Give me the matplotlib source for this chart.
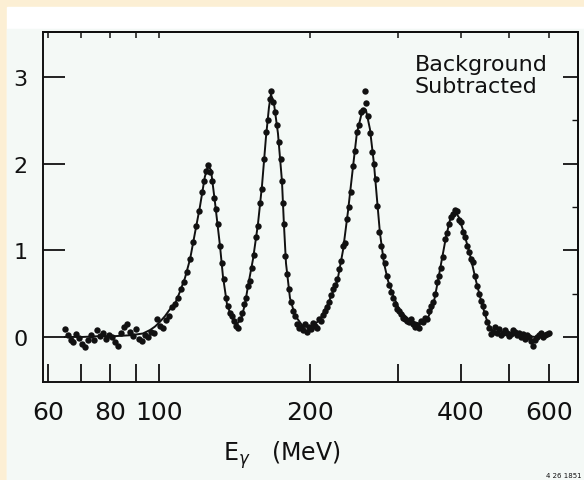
import matplotlib
matplotlib.use("Agg")
import matplotlib.pyplot as plt
from matplotlib.patches import Rectangle
from matplotlib.ticker import NullLocator

# ---------------- data ----------------
# fitted curve: photon energy (MeV) and counts (arb. units)
curve_E = [64.9, 70.5, 76.6, 82.1, 87.9, 92.9, 96.0, 98.2, 100.3, 102.8, 105.2,
           107.6, 110.1, 112.7, 115.4, 118.0, 120.7, 123.5, 125.3, 127.0, 129.4,
           132.4, 134.2, 136.7, 139.8, 143.1, 145.8, 148.5, 150.5, 154.1, 157.6,
           160.6, 163.5, 165.8, 167.3, 169.6, 172.8, 176.0, 177.6, 179.3, 182.6,
           186.8, 193.9, 202.1, 209.6, 217.4, 227.1, 233.0, 238.4, 243.8, 248.3,
           254.3, 258.9, 263.7, 268.6, 272.3, 276.1, 281.3, 286.5, 293.2, 302.7,
           317.0, 331.9, 342.7, 352.3, 360.5, 367.1, 373.9, 380.9, 389.7, 396.9,
           406.2, 417.6, 429.2, 441.2, 453.6, 466.3, 490.5, 525.5, 563.1, 603.2]
curve_y = [0.00, 0.00, 0.01, 0.01, 0.02, 0.04, 0.08, 0.12, 0.17, 0.24, 0.32,
           0.38, 0.52, 0.68, 0.90, 1.20, 1.50, 1.85, 1.97, 1.93, 1.55,
           1.05, 0.70, 0.38, 0.22, 0.15, 0.20, 0.38, 0.58, 0.90, 1.30,
           1.75, 2.30, 2.65, 2.80, 2.70, 2.35, 1.80, 1.30, 0.85, 0.45,
           0.25, 0.12, 0.12, 0.20, 0.38, 0.65, 1.00, 1.45, 1.95, 2.35,
           2.60, 2.62, 2.40, 2.00, 1.60, 1.20, 0.85, 0.65, 0.48, 0.30,
           0.19, 0.15, 0.20, 0.35, 0.65, 0.90, 1.15, 1.35, 1.45, 1.38,
           1.20, 0.95, 0.65, 0.38, 0.15, 0.05, 0.03, 0.02, 0.00, 0.02]

# measured points
data_E = [64.9, 65.8, 66.8, 67.4, 68.3, 69.3, 70.2, 71.2, 72.2, 73.2, 74.2, 75.2,
          76.3, 77.3, 78.4, 79.5, 80.6, 81.7, 82.8, 84.0, 85.1, 86.3, 87.5, 88.7,
          90.0, 91.2, 92.5, 93.8, 95.1, 96.4, 97.7, 99.1, 100.5, 101.8, 103.3,
          104.7, 106.1, 107.6, 109.1, 110.7, 112.2, 113.8, 115.3, 116.9, 118.6,
          120.2, 121.8, 123.0, 124.1, 125.3, 126.4, 127.6, 128.8, 130.0, 131.2,
          132.4, 133.6, 134.8, 136.1, 137.3, 138.6, 139.9, 141.1, 142.5, 143.8,
          145.1, 146.5, 147.8, 149.2, 150.5, 151.9, 153.3, 154.8, 156.2, 157.6,
          159.1, 160.6, 162.0, 163.5, 165.0, 166.5, 167.3, 168.9, 170.4, 172.0,
          173.6, 175.2, 176.0, 176.8, 177.6, 178.5, 180.1, 181.8, 183.5, 185.1,
          186.8, 188.5, 190.3, 192.0, 193.8, 195.6, 197.4, 199.3, 201.1, 203.0,
          204.8, 206.7, 208.6, 210.6, 212.5, 214.4, 216.4, 218.4, 220.4, 222.5,
          224.5, 226.6, 228.7, 230.8, 232.9, 235.1, 237.3, 239.5, 241.7, 243.9,
          246.1, 248.4, 250.7, 253.0, 255.4, 257.7, 258.9, 261.3, 263.7, 266.1,
          268.6, 271.0, 272.3, 274.8, 277.4, 280.0, 282.6, 285.2, 287.8, 290.5,
          293.2, 295.9, 298.7, 301.4, 304.2, 307.0, 309.7, 312.6, 315.5, 318.4,
          321.3, 324.3, 327.3, 330.4, 333.4, 336.5, 339.5, 342.7, 345.9, 349.1,
          352.3, 355.5, 358.8, 362.1, 365.5, 368.9, 372.3, 375.7, 379.2, 382.7,
          386.2, 389.7, 393.4, 397.0, 400.7, 404.4, 408.1, 411.9, 415.7, 419.5,
          423.4, 427.2, 431.2, 435.2, 439.2, 443.3, 447.4, 451.5, 455.7, 459.9,
          464.2, 468.4, 472.8, 477.1, 481.6, 486.0, 490.5, 495.0, 499.6, 504.2,
          508.9, 513.6, 518.4, 523.1, 528.0, 532.8, 537.7, 542.7, 547.8, 552.8,
          557.9, 563.1, 568.3, 573.6, 578.9, 584.2, 589.6, 595.1, 600.6]
data_y = [0.09, 0.02, -0.03, -0.06, 0.03, -0.01, -0.08, -0.12, -0.03, 0.02, -0.04, 0.08,
          0.01, 0.04, -0.02, 0.02, 0.00, -0.06, -0.10, 0.05, 0.11, 0.15, 0.06, 0.01,
          0.09, -0.02, -0.05, 0.02, 0.00, 0.06, 0.04, 0.21, 0.13, 0.10, 0.20,
          0.24, 0.35, 0.38, 0.45, 0.55, 0.63, 0.75, 0.90, 1.10, 1.28,
          1.45, 1.67, 1.80, 1.92, 1.98, 1.90, 1.80, 1.60, 1.48, 1.30,
          1.05, 0.85, 0.67, 0.45, 0.36, 0.28, 0.24, 0.18, 0.13, 0.10,
          0.21, 0.28, 0.38, 0.45, 0.59, 0.65, 0.80, 0.95, 1.15, 1.28,
          1.55, 1.71, 2.05, 2.36, 2.51, 2.75, 2.84, 2.71, 2.60, 2.45,
          2.25, 2.05, 1.80, 1.55, 1.30, 0.93, 0.73, 0.55, 0.40, 0.30,
          0.24, 0.15, 0.10, 0.12, 0.08, 0.15, 0.06, 0.12, 0.09, 0.16,
          0.13, 0.10, 0.21, 0.18, 0.25, 0.30, 0.35, 0.40, 0.48, 0.55,
          0.60, 0.67, 0.78, 0.88, 1.05, 1.09, 1.36, 1.50, 1.67, 1.97,
          2.15, 2.36, 2.45, 2.60, 2.62, 2.84, 2.70, 2.55, 2.35, 2.13,
          2.00, 1.82, 1.51, 1.21, 1.05, 0.93, 0.85, 0.70, 0.60, 0.52,
          0.45, 0.38, 0.32, 0.30, 0.26, 0.22, 0.21, 0.18, 0.17, 0.21,
          0.15, 0.12, 0.14, 0.10, 0.18, 0.17, 0.22, 0.21, 0.30, 0.36,
          0.40, 0.50, 0.63, 0.70, 0.80, 0.92, 1.13, 1.20, 1.30, 1.38,
          1.42, 1.47, 1.45, 1.35, 1.33, 1.21, 1.15, 1.05, 0.98, 0.90,
          0.86, 0.70, 0.59, 0.50, 0.42, 0.36, 0.28, 0.17, 0.10, 0.03,
          0.06, 0.12, 0.05, 0.09, 0.02, 0.04, 0.08, 0.05, 0.01, 0.03,
          0.08, 0.06, 0.02, 0.05, 0.00, 0.03, -0.02, 0.02, 0.00, -0.05,
          -0.10, -0.03, 0.00, 0.02, 0.04, 0.00, 0.02, 0.03, 0.05]

x_ticks = [60, 70, 80, 90, 100, 200, 300, 400, 500, 600]
x_labels = ["60", "", "80", "", "100", "200", "", "400", "", "600"]
y_ticks = [0, 1, 2, 3]
y_labels = ["0", "1", "2", "3"]

# ---------------- figure ----------------
W, H = 584, 481
fig = plt.figure(figsize=(W / 100, H / 100), dpi=100, facecolor="#fcefd4")
fig.patches.append(Rectangle((7 / W, 0), (W - 7) / W, (H - 8) / H,
                             transform=fig.transFigure, color="white", zorder=-3))
fig.patches.append(Rectangle((7 / W, 0), (W - 7) / W, (H - 30) / H,
                             transform=fig.transFigure, color="#f4f9f6", zorder=-2))

ax = fig.add_axes([43 / W, 1 - 383 / H, 535 / W, 350 / H])
ax.set_facecolor("#f4f9f6")
ax.set_xscale("log")
ax.set_xlim(58.7, 686)
ax.set_ylim(-0.52, 3.52)

ink = "#111111"
ax.plot(curve_E, curve_y, color=ink, lw=1.4, zorder=3)
ax.plot(data_E, data_y, "o", ms=4.6, color=ink, mew=0, zorder=4)

for s in ax.spines.values():
    s.set_color(ink)
    s.set_linewidth(1.4)

ax.set_xticks(x_ticks)
ax.set_xticklabels(x_labels)
ax.xaxis.set_minor_locator(NullLocator())
ax.set_yticks(y_ticks)
ax.set_yticklabels(y_labels)
ax.tick_params(axis="x", direction="in", length=13, width=1.3, colors=ink,
               labelsize=18, pad=13, top=False)
ax.tick_params(axis="y", direction="in", length=16, width=1.3, colors=ink,
               labelsize=16, pad=11, right=False)

top = ax.secondary_xaxis("top")
top.set_xticks(x_ticks)
top.xaxis.set_minor_locator(NullLocator())
top.tick_params(direction="in", length=4, width=1.1, labeltop=False, colors=ink)
top.spines["top"].set_linewidth(1.4)

right = ax.secondary_yaxis("right")
right.set_yticks(y_ticks)
right.set_yticks([0.5, 1.5, 2.5], minor=True)
right.tick_params(which="major", direction="in", length=11, width=1.3,
                  labelright=False, colors=ink)
right.tick_params(which="minor", direction="in", length=4, width=1.0, colors=ink)
right.spines["right"].set_linewidth(1.4)

fig.text(415 / W, 1 - 55 / H, "Background\nSubtracted", ha="left", va="top",
         fontsize=16, linespacing=1.1, color=ink)
fig.text(282 / W, 1 - 455 / H, r"E$_\gamma$   (MeV)", ha="center", va="center",
         fontsize=17, color=ink)
fig.text(582 / W, 1 - 476 / H, "4 26 1851", ha="right", va="center",
         fontsize=5, color=ink)

fig.savefig("out.png", dpi=100, facecolor=fig.get_facecolor())
